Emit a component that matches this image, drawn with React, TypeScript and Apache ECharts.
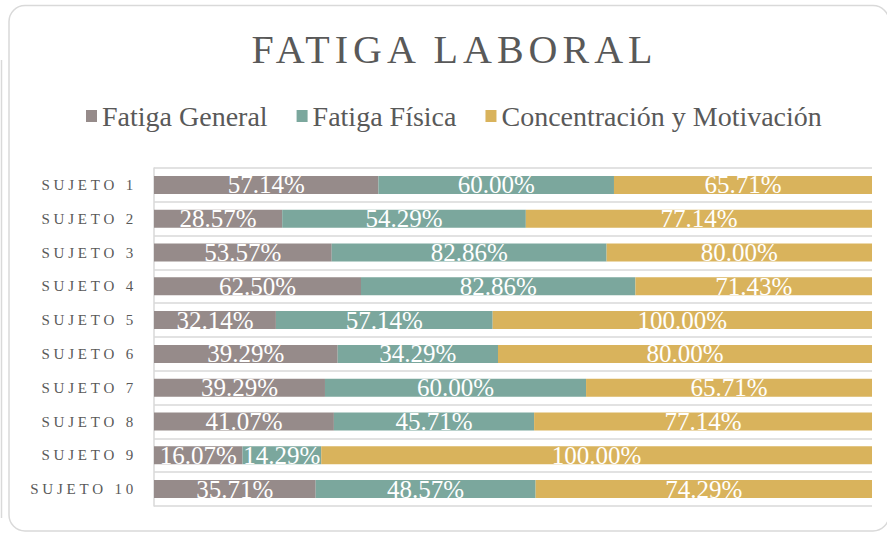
import React, { useEffect, useRef } from "react";
import * as echarts from "echarts";

const categories = [
  "SUJETO 1",
  "SUJETO 2",
  "SUJETO 3",
  "SUJETO 4",
  "SUJETO 5",
  "SUJETO 6",
  "SUJETO 7",
  "SUJETO 8",
  "SUJETO 9",
  "SUJETO 10",
];
const fatigaGeneral = [57.14, 28.57, 53.57, 62.5, 32.14, 39.29, 39.29, 41.07, 16.07, 35.71];
const fatigaFisica = [60.0, 54.29, 82.86, 82.86, 57.14, 34.29, 60.0, 45.71, 14.29, 48.57];
const concentracion = [65.71, 77.14, 80.0, 71.43, 100.0, 80.0, 65.71, 77.14, 100.0, 74.29];
const seriesNames = ["Fatiga General", "Fatiga Física", "Concentración y Motivación"];
const seriesColors = ["#968b8a", "#7ba79d", "#d9b35c"];
const titleText = "FATIGA LABORAL";

export default function App() {
  const ref = useRef<HTMLDivElement>(null);

  useEffect(() => {
    if (!ref.current) return;
    const chart = echarts.init(ref.current, undefined, { renderer: "svg" });
    const raw = [fatigaGeneral, fatigaFisica, concentracion];
    const totals = categories.map((_, i) => raw.reduce((s, arr) => s + arr[i], 0));
    const series = raw.map((arr, k) => ({
      name: seriesNames[k],
      type: "bar",
      stack: "total",
      barWidth: 18,
      itemStyle: { color: seriesColors[k] },
      data: arr.map((v, i) => (v / totals[i]) * 100),
      label: {
        show: true,
        position: "inside",
        color: "#ffffff",
        fontSize: 25,
        fontFamily: "'Liberation Serif'",
        formatter: (p: any) => arr[p.dataIndex].toFixed(2) + "%",
      },
    }));
    chart.setOption({
      animation: false,
      title: {
        text: titleText,
        left: "center",
        top: 29,
        padding: 0,
        textStyle: {
          color: "#595959",
          fontSize: 40,
          fontWeight: "normal",
          fontFamily: "'Liberation Serif', spacedB",
        },
      },
      legend: {
        data: seriesNames,
        left: 86,
        top: 102,
        padding: 0,
        itemWidth: 11,
        itemHeight: 12,
        itemGap: 29,
        icon: "rect",
        textStyle: {
          color: "#595959",
          fontSize: 28,
          fontFamily: "'Liberation Serif'",
        },
      },
      grid: { left: 154, right: 37, top: 168, bottom: 27, containLabel: false },
      xAxis: {
        type: "value",
        min: 0,
        max: 100,
        show: false,
      },
      yAxis: {
        type: "category",
        data: categories,
        inverse: true,
        axisTick: { show: false },
        axisLine: { show: true, lineStyle: { color: "#d9d9d9", width: 1.5 } },
        splitLine: { show: true, interval: 0, lineStyle: { color: "#d9d9d9", width: 1.5 } },
        axisLabel: {
          interval: 0,
          margin: 17,
          color: "#595959",
          fontSize: 15,
          fontFamily: "'Liberation Serif', spacedA",
        },
      },
      graphic: [
        {
          type: "rect",
          z: -10,
          shape: { x: 9, y: 5.5, width: 880, height: 525.5, r: 16 },
          style: { fill: "#ffffff", stroke: "#d9d9d9", lineWidth: 1.5 },
        },
        {
          type: "line",
          z: -10,
          shape: { x1: 1.5, y1: 60, x2: 1.5, y2: 518 },
          style: { stroke: "#d9d9d9", lineWidth: 1.5 },
        },
      ],
      series,
    });
    return () => chart.dispose();
  }, []);

  return (
    <div
      id="chart-wrap"
      style={{
        position: "fixed",
        left: 0,
        top: 0,
        width: 887,
        height: 533,
        overflow: "hidden",
        background: "#ffffff",
      }}
    >
      <style>{`
        #chart-wrap text[style*="spacedA"] { letter-spacing: 3.8px; }
        #chart-wrap text[style*="spacedB"] { letter-spacing: 5px; }
      `}</style>
      <div ref={ref} style={{ width: 909, height: 533 }} />
    </div>
  );
}
